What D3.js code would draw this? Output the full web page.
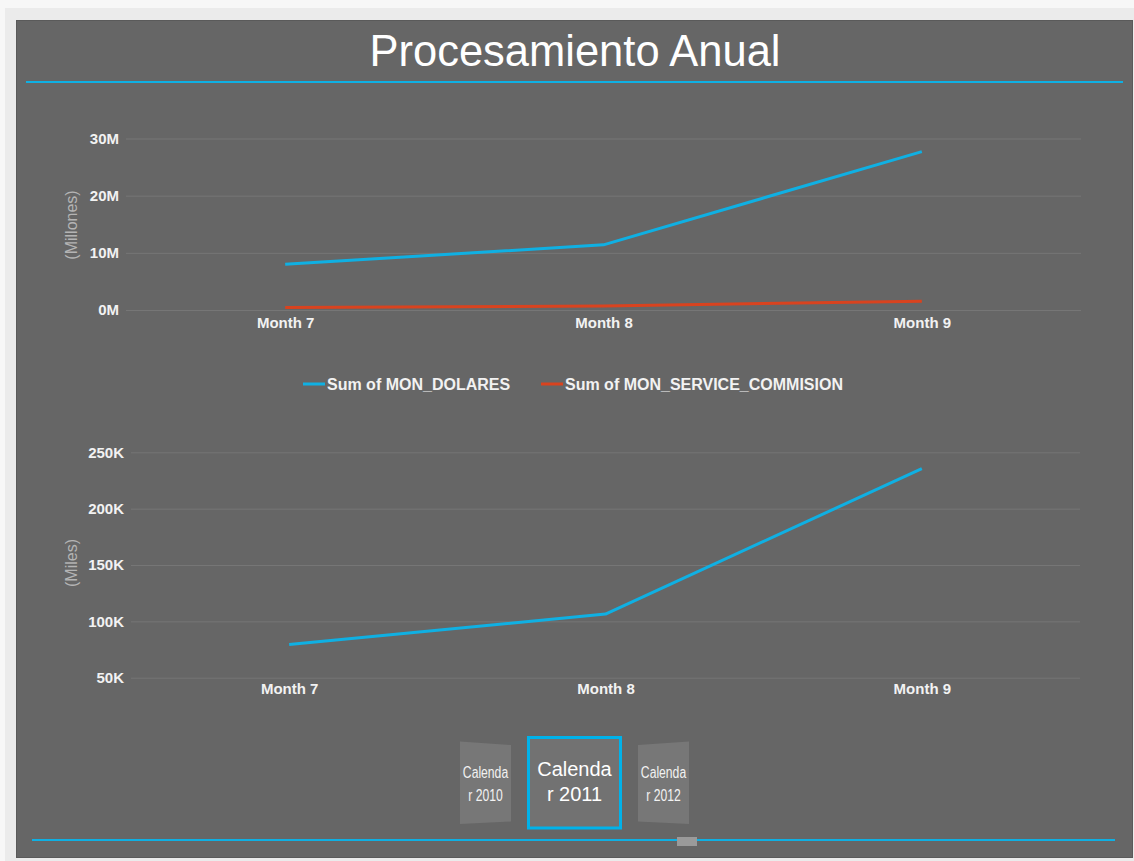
<!DOCTYPE html>
<html>
<head>
<meta charset="utf-8">
<script src="https://cdn.jsdelivr.net/npm/d3@7"></script>
<style>
  html, body { margin: 0; padding: 0; background: #f7f7f7; }
  svg { display: block; }
  text { font-family: "Liberation Sans", Arial, sans-serif; }
</style>
</head>
<body>
<svg id="chart" width="1134" height="861"></svg>
<script>
// Monthly processing figures, 2011
const months = ["Month 7", "Month 8", "Month 9"];
const dolares = [8.0, 11.4, 27.7];          // millions
const commission = [0.45, 0.7, 1.55];       // millions
const volumeK = [79.5, 106.5, 235.5];       // thousands
const topTicks = [0, 10, 20, 30];
const bottomTicks = [50, 100, 150, 200, 250];
const calendars = ["Calendar 2010", "Calendar 2011", "Calendar 2012"];

const BLUE = "#0fb0e3", RED = "#d9431f";

const svg = d3.select("#chart");

// page frame and panel
svg.append("rect").attr("x", 5).attr("y", 8).attr("width", 1129).attr("height", 853).attr("fill", "#ebebeb");
svg.append("rect").attr("x", 16).attr("y", 20).attr("width", 1117).attr("height", 838).attr("fill", "#5a5a5a");
svg.append("rect").attr("x", 17).attr("y", 21).attr("width", 1115).attr("height", 836).attr("fill", "#666666");

// title
svg.append("text").attr("x", 575).attr("y", 66).attr("text-anchor", "middle")
  .attr("fill", "#ffffff").attr("font-size", 43.5).text("Procesamiento Anual");
svg.append("line").attr("x1", 26).attr("x2", 1123).attr("y1", 82).attr("y2", 82)
  .attr("stroke", BLUE).attr("stroke-width", 2);

function styleAxis(g) {
  g.select(".domain").remove();
  g.selectAll(".tick line").attr("stroke", "#767676").attr("stroke-width", 1);
  g.selectAll(".tick text").attr("fill", "#f2f2f2").attr("font-size", 15)
    .attr("font-weight", "bold").attr("font-family", "'Liberation Sans', Arial, sans-serif");
}

function drawChart(opts) {
  const x = d3.scalePoint().domain(months).range([opts.x0, opts.x1]).padding(0.5);
  const y = d3.scaleLinear().domain(opts.domain).range([opts.yBottom, opts.yTop]);

  const yAxis = d3.axisLeft(y).tickValues(opts.ticks)
    .tickSize(-(opts.x1 - opts.x0)).tickPadding(7).tickFormat(opts.fmt);
  svg.append("g").attr("transform", `translate(${opts.x0},0)`).call(yAxis).call(styleAxis);

  const xAxis = d3.axisBottom(x).tickSize(0).tickPadding(opts.xPad);
  svg.append("g").attr("transform", `translate(0,${opts.yBottom})`).call(xAxis).call(styleAxis);

  svg.append("text")
    .attr("transform", `translate(77,${opts.titleY}) rotate(-90)`)
    .attr("text-anchor", "middle").attr("fill", "#b4b4b4").attr("font-size", 16)
    .text(opts.title);

  const line = d3.line().x((d, i) => x(months[i])).y(d => y(d));
  opts.series.forEach(s => {
    svg.append("path").datum(s.values).attr("d", line)
      .attr("fill", "none").attr("stroke", s.color).attr("stroke-width", 3)
      .attr("stroke-linejoin", "round");
  });
}

drawChart({
  x0: 126, x1: 1081, yTop: 138.5, yBottom: 310, domain: [0, 30], ticks: topTicks,
  fmt: d => d + "M", title: "(Millones)", titleY: 225, xPad: 7,
  series: [{ values: dolares, color: BLUE }, { values: commission, color: RED }]
});

drawChart({
  x0: 131, x1: 1080, yTop: 452.3, yBottom: 677.7, domain: [50, 250], ticks: bottomTicks,
  fmt: d => d + "K", title: "(Miles)", titleY: 563, xPad: 6,
  series: [{ values: volumeK, color: BLUE }]
});

// legend
const legendItems = [
  { label: "Sum of MON_DOLARES", color: BLUE, x: 303 },
  { label: "Sum of MON_SERVICE_COMMISION", color: RED, x: 541 }
];
const lg = svg.append("g").selectAll("g").data(legendItems).join("g")
  .attr("transform", d => `translate(${d.x},384)`);
lg.append("line").attr("x1", 0).attr("x2", 22).attr("stroke", d => d.color).attr("stroke-width", 3);
lg.append("text").attr("x", 24).attr("y", 5.5).attr("fill", "#f2f2f2")
  .attr("font-size", 16).attr("font-weight", "bold").text(d => d.label);

// calendar year selector
const cal = svg.append("g");
// side tiles drawn with a slight perspective
const sideTiles = [
  { pts: [[460, 741.5], [511, 745], [511, 821.5], [460, 824]], label: calendars[0], cx: 485.5 },
  { pts: [[638, 745], [689, 741.5], [689, 824], [638, 821.5]], label: calendars[2], cx: 663.5 }
];
sideTiles.forEach(t => {
  cal.append("path").attr("d", d3.line()(t.pts) + "Z").attr("fill", "#777777");
  const parts = [t.label.slice(0, 7), t.label.slice(7)];
  parts.forEach((p, i) => {
    cal.append("text").attr("transform", `translate(${t.cx},${778 + i * 23}) scale(0.76,1)`)
      .attr("text-anchor", "middle").attr("fill", "#f2f2f2").attr("font-size", 16).text(p);
  });
});
cal.append("rect").attr("x", 528.5).attr("y", 737.5).attr("width", 92).attr("height", 90.5)
  .attr("fill", "#727272").attr("stroke", "#00b2ea").attr("stroke-width", 3);
[calendars[1].slice(0, 7), calendars[1].slice(7)].forEach((p, i) => {
  cal.append("text").attr("x", 574.5).attr("y", 776 + i * 25).attr("text-anchor", "middle")
    .attr("fill", "#ffffff").attr("font-size", 20).text(p);
});

// bottom rule with scroll thumb
svg.append("line").attr("x1", 32).attr("x2", 1115).attr("y1", 840).attr("y2", 840)
  .attr("stroke", BLUE).attr("stroke-width", 2);
svg.append("rect").attr("x", 677).attr("y", 837).attr("width", 20).attr("height", 9).attr("fill", "#9a9a9a");
</script>
</body>
</html>
